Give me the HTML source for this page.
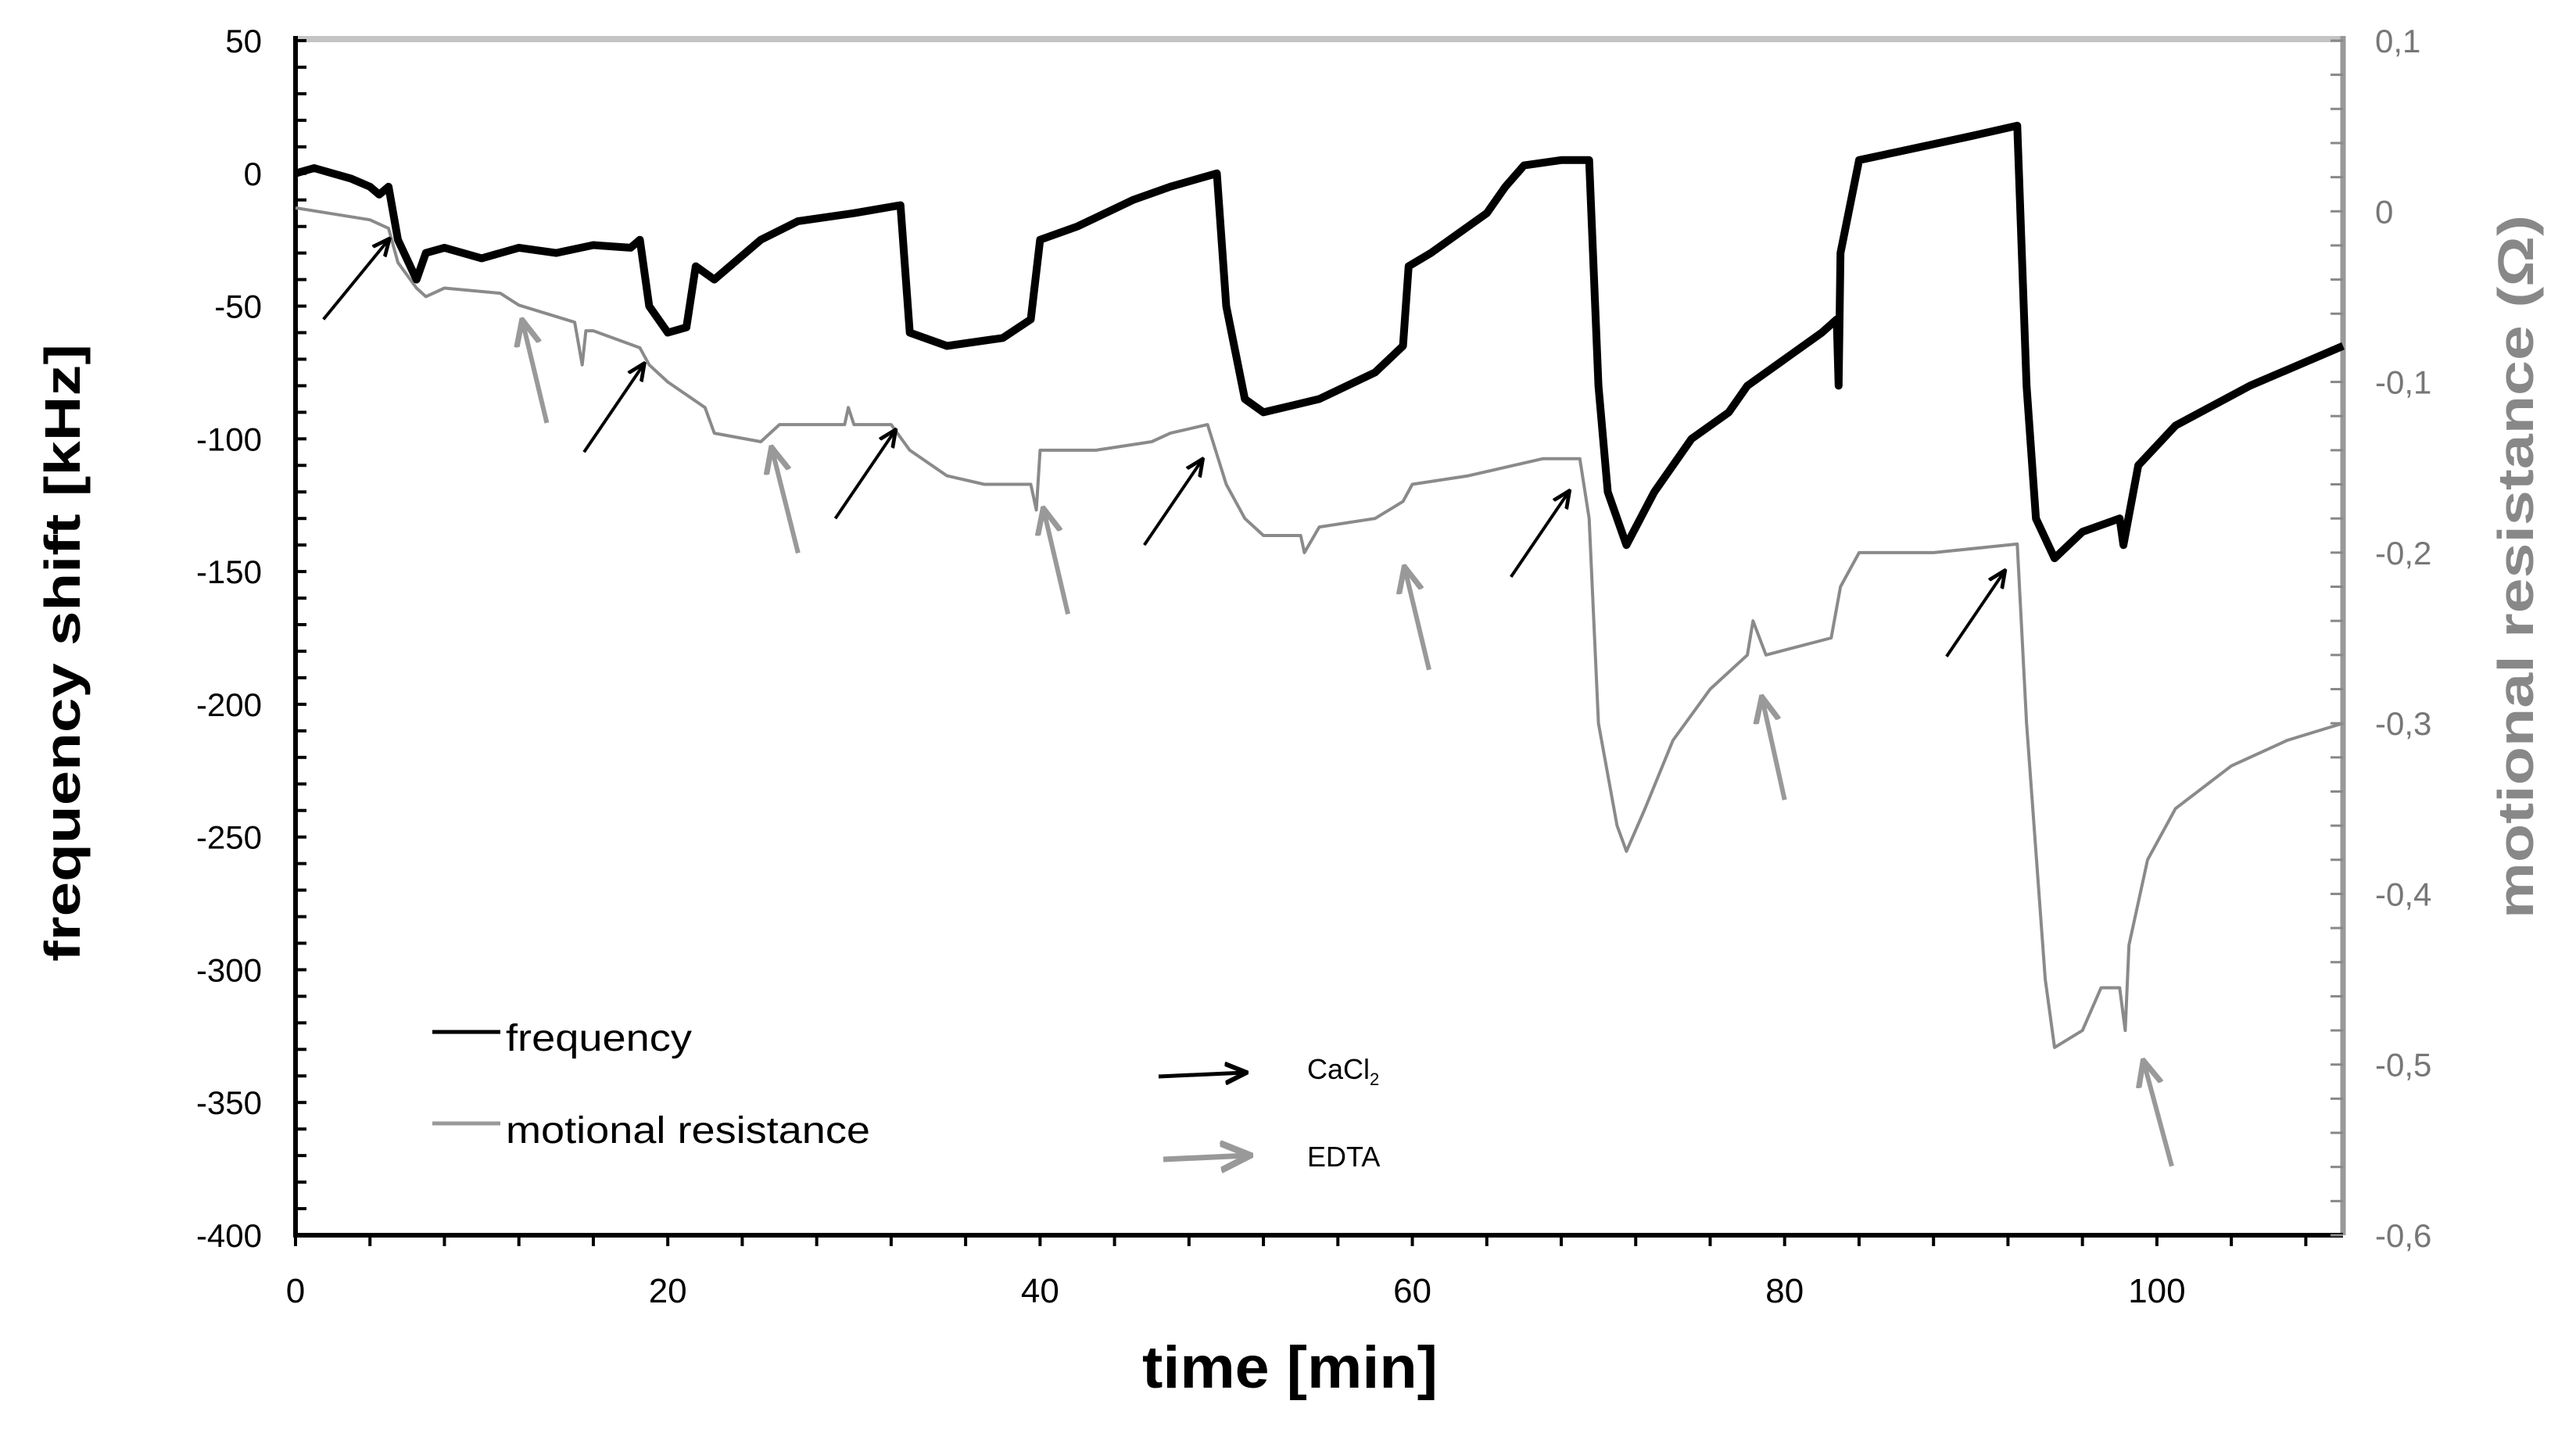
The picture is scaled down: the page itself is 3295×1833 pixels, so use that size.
<!DOCTYPE html>
<html><head><meta charset="utf-8"><style>
html,body{margin:0;padding:0;background:#fff;}
svg{display:block;}
text{font-family:"Liberation Sans",sans-serif;}
</style></head><body>
<svg id="chart" width="3295" height="1833" viewBox="0 0 3295 1833" xmlns="http://www.w3.org/2000/svg">
<defs>
<marker id="ahb" markerWidth="6" markerHeight="6" refX="5" refY="3" orient="auto" markerUnits="strokeWidth"><path d="M0,0.5 L5.5,3 L0,5.5" fill="none" stroke="#000" stroke-width="1.2"/></marker>
<marker id="ahg" markerWidth="6" markerHeight="6" refX="5" refY="3" orient="auto" markerUnits="strokeWidth"><path d="M0,0.5 L5.5,3 L0,5.5" fill="none" stroke="#999" stroke-width="1.2"/></marker>
</defs>
<g id="axes"></g>
<g id="series"></g>
<g id="annot"></g>
</svg>
<script>
const timeTicks=[0,20,40,60,80,100];
const freqTicks=[50,0,-50,-100,-150,-200,-250,-300,-350,-400];
const resTicks=[0.1,0,-0.1,-0.2,-0.3,-0.4,-0.5,-0.6];
const resTickLabels=["0,1","0","-0,1","-0,2","-0,3","-0,4","-0,5","-0,6"];
const freqTime=[0,1,2,3,4,4.5,5,5.5,6.5,7,8,10,12,14,16,18,18.5,19,20,21,21.5,22.5,25,27,30,32.5,33,35,38,39.5,40,42,45,47,49.5,50,51,52,55,58,59.5,59.8,61,64,65,66,68,69.5,70,70.5,71.5,73,75,77,78,80,82,82.8,82.9,83,84,86,90,92.5,93,93.5,94.5,96,98,98.2,99,101,105,110];
const freqVals=[0,2,0,-2,-5,-8,-5,-25,-40,-30,-28,-32,-28,-30,-27,-28,-25,-50,-60,-58,-35,-40,-25,-18,-15,-12,-60,-65,-62,-55,-25,-20,-10,-5,0,-50,-85,-90,-85,-75,-65,-35,-30,-15,-5,3,5,5,-80,-120,-140,-120,-100,-90,-80,-70,-60,-55,-80,-30,5,8,14,18,-80,-130,-145,-135,-130,-140,-110,-95,-80,-65];
const resTime=[0,4,5,5.5,6.5,7,8,11,12,15,15.4,15.6,16,18.5,19,20,22,22.5,25,26,29.5,29.7,30,32,33,35,37,39.5,39.8,40,43,46,47,49,50,51,52,54,54.2,55,58,59.5,60,63,65,67,69,69.5,70,71,71.5,72.5,74,76,78,78.3,79,82.5,83,84,88,92.5,93,94,94.5,96,97,98,98.3,98.5,99.5,101,104,107,110];
const resVals=[0.002,-0.005,-0.01,-0.03,-0.045,-0.05,-0.045,-0.048,-0.055,-0.065,-0.09,-0.07,-0.07,-0.08,-0.09,-0.1,-0.115,-0.13,-0.135,-0.125,-0.125,-0.115,-0.125,-0.125,-0.14,-0.155,-0.16,-0.16,-0.175,-0.14,-0.14,-0.135,-0.13,-0.125,-0.16,-0.18,-0.19,-0.19,-0.2,-0.185,-0.18,-0.17,-0.16,-0.155,-0.15,-0.145,-0.145,-0.18,-0.3,-0.36,-0.375,-0.35,-0.31,-0.28,-0.26,-0.24,-0.26,-0.25,-0.22,-0.2,-0.2,-0.195,-0.3,-0.45,-0.49,-0.48,-0.455,-0.455,-0.48,-0.43,-0.38,-0.35,-0.325,-0.31,-0.3];
const cacl2Arrows=[[1.5,-55,5,-25],[15.5,-105,18.7,-72],[29,-130,32.2,-97],[45.6,-140,48.7,-108],[65.3,-152,68.4,-120],[88.7,-182,91.8,-150]];
const edtaArrows=[[13.5,-94,12.2,-56],[27,-143,25.6,-104],[41.5,-166,40.2,-127],[60.9,-187,59.6,-149],[80,-236,78.8,-198],[100.8,-374,99.3,-335]];

const X0=378,X1=2997,Y0=52,Y1=1580;
const xs=t=>X0+(t/110)*(X1-X0);
const yf=v=>Y0+(50-v)/450*(Y1-Y0);
const yr=v=>Y0+(0.1-v)/0.7*(Y1-Y0);
const NS="http://www.w3.org/2000/svg";
function mk(tag,attrs,parent){const e=document.createElementNS(NS,tag);for(const k in attrs)e.setAttribute(k,attrs[k]);parent.appendChild(e);return e;}
const axes=document.getElementById('axes'),series=document.getElementById('series'),annot=document.getElementById('annot');

let e;
e=mk('line',{x1:X0,y1:Y0-2,x2:X1,y2:Y0-2,stroke:'#c4c4c4','stroke-width':8},axes);


e=mk('line',{x1:X1,y1:Y0-6,x2:X1,y2:Y1,stroke:'#999','stroke-width':7},axes);


e=mk('line',{x1:X0,y1:Y0-6,x2:X0,y2:Y1+3,stroke:'#000','stroke-width':6},axes);


e=mk('line',{x1:X0-3,y1:Y1,x2:X1,y2:Y1,stroke:'#000','stroke-width':6},axes);



for(let t=0;t<=110;t+=4){mk('line',{x1:xs(t),y1:Y1,x2:xs(t),y2:Y1+14,stroke:'#000','stroke-width':4},axes);}
for(let v=50;v>=-400;v-=10){mk('line',{x1:X0,y1:yf(v),x2:X0+14,y2:yf(v),stroke:'#000','stroke-width':4},axes);}
for(let i=0;i<=35;i++){const v=0.1-i*0.02;mk('line',{x1:X1-16,y1:yr(v),x2:X1,y2:yr(v),stroke:'#888','stroke-width':3},axes);}

timeTicks.forEach(t=>{const el=mk('text',{x:xs(t),y:1666,'font-size':44,'text-anchor':'middle',fill:'#000'},axes);el.textContent=t;

});
freqTicks.forEach(v=>{const el=mk('text',{x:335,y:yf(v)+15,'font-size':42,'text-anchor':'end',fill:'#000'},axes);el.textContent=v;

});
resTicks.forEach((v,i)=>{const el=mk('text',{x:3038,y:yr(v)+15,'font-size':42,fill:'#777'},axes);el.textContent=resTickLabels[i];

});

e=mk('text',{x:1650,y:1775,'font-size':76,'font-weight':'bold','text-anchor':'middle',fill:'#000',textLength:378,lengthAdjust:'spacingAndGlyphs'},axes);e.textContent='time [min]';


e=mk('text',{x:0,y:0,'font-size':64,'font-weight':'bold','text-anchor':'middle',fill:'#000',textLength:790,lengthAdjust:'spacingAndGlyphs',transform:'translate(102,835) rotate(-90)'},axes);e.textContent='frequency shift [kHz]';


e=mk('text',{x:0,y:0,'font-size':64,'font-weight':'bold','text-anchor':'middle',fill:'#888',textLength:900,lengthAdjust:'spacingAndGlyphs',transform:'translate(3240,725) rotate(-90)'},axes);e.textContent='motional resistance (Ω)';



let d=resTime.map((t,i)=>(i?'L':'M')+xs(t).toFixed(1)+','+yr(resVals[i]).toFixed(1)).join(' ');
e=mk('path',{d:d,fill:'none',stroke:'#8a8a8a','stroke-width':4,'stroke-linejoin':'round'},series);


d=freqTime.map((t,i)=>(i?'L':'M')+xs(t).toFixed(1)+','+yf(freqVals[i]).toFixed(1)).join(' ');
e=mk('path',{d:d,fill:'none',stroke:'#000','stroke-width':10,'stroke-linejoin':'round'},series);



cacl2Arrows.forEach(a=>{const el=mk('line',{x1:xs(a[0]),y1:yf(a[1]),x2:xs(a[2]),y2:yf(a[3]),stroke:'#000','stroke-width':4,'marker-end':'url(#ahb)'},annot);

});
edtaArrows.forEach(a=>{const el=mk('line',{x1:xs(a[0]),y1:yf(a[1]),x2:xs(a[2]),y2:yf(a[3]),stroke:'#999','stroke-width':6,'marker-end':'url(#ahg)'},annot);

});

e=mk('line',{x1:553,y1:1320,x2:640,y2:1320,stroke:'#000','stroke-width':5},annot);


e=mk('text',{x:647,y:1344,'font-size':48,fill:'#000',textLength:238,lengthAdjust:'spacingAndGlyphs'},annot);e.textContent='frequency';


e=mk('line',{x1:553,y1:1437,x2:640,y2:1437,stroke:'#999','stroke-width':5},annot);


e=mk('text',{x:647,y:1462,'font-size':48,fill:'#000',textLength:466,lengthAdjust:'spacingAndGlyphs'},annot);e.textContent='motional resistance';


e=mk('line',{x1:1482,y1:1377,x2:1592,y2:1372,stroke:'#000','stroke-width':5,'marker-end':'url(#ahb)'},annot);


e=mk('text',{x:1672,y:1380,'font-size':36,fill:'#000'},annot);e.innerHTML='CaCl<tspan font-size="22" dy="8">2</tspan>';


e=mk('line',{x1:1488,y1:1483,x2:1596,y2:1478,stroke:'#999','stroke-width':7,'marker-end':'url(#ahg)'},annot);


e=mk('text',{x:1672,y:1492,'font-size':36,fill:'#000'},annot);e.textContent='EDTA';


</script>
</body></html>
